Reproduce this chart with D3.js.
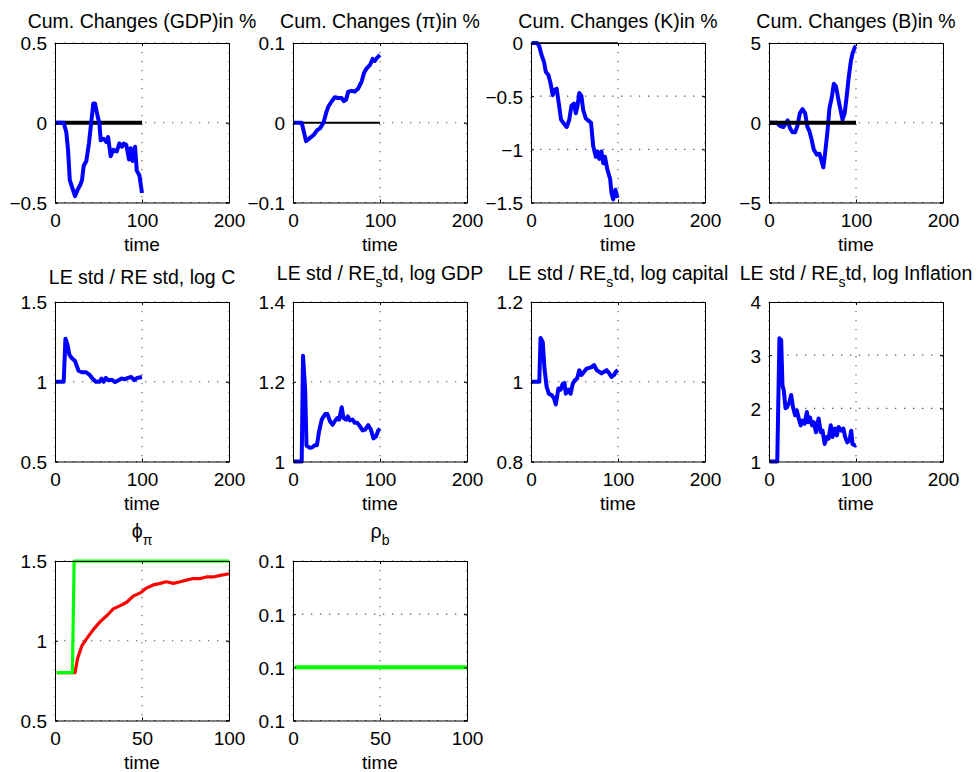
<!DOCTYPE html>
<html><head><meta charset="utf-8">
<script src="https://cdn.jsdelivr.net/npm/d3@7"></script>
<style>
body{margin:0;background:#fff;}
svg{display:block;}
text{font-family:"Liberation Sans",Arial,Helvetica,sans-serif;fill:#000;}
</style>
</head><body>
<svg id="c" width="979" height="772"></svg>
<script>
// ---------- data ----------
const gdpT = [1,10,13,15,17,20,23,26,29,31,33,36,39,42,44,46,49,51,52.5,56,59,61,64,67,71,74,77,79,82,85,87,89,92,94,97,100];
const gdpV = [0,0,-0.06,-0.17,-0.36,-0.41,-0.46,-0.42,-0.39,-0.36,-0.27,-0.24,-0.13,0.02,0.12,0.12,0.04,0,-0.11,-0.1,-0.12,-0.09,-0.21,-0.17,-0.18,-0.13,-0.15,-0.13,-0.14,-0.23,-0.16,-0.24,-0.15,-0.3,-0.33,-0.44];

const piT = [1,10,15,19.5,24,28,31,35,38,40.5,44.5,48,52,56,58.5,61,63.5,67.5,71,75,79,81.5,84.5,88.5,91.5,94,97,100];
const piV = [0,0,-0.023,-0.019,-0.015,-0.009,-0.007,0,0.012,0.02,0.027,0.032,0.031,0.031,0.027,0.029,0.039,0.04,0.039,0.043,0.052,0.062,0.068,0.0725,0.08,0.0775,0.082,0.085];

const capT = [1,7,9.5,12,15,17,20,22.5,25,27.5,29.5,32,34.5,38,41,44,46.5,49.5,51.5,53.5,55.5,58,60,63,66,69,71.5,74.5,76.5,78.5,81,83,85,87.5,91,92.5,94.5,97,99,100];
const capV = [0,0,-0.03,-0.11,-0.18,-0.27,-0.3,-0.38,-0.49,-0.44,-0.43,-0.57,-0.72,-0.76,-0.79,-0.72,-0.59,-0.57,-0.66,-0.59,-0.47,-0.5,-0.63,-0.71,-0.73,-0.75,-0.97,-1.07,-1.02,-1.09,-1.02,-1.13,-1.07,-1.18,-1.28,-1.41,-1.47,-1.38,-1.44,-1.43];

const bT = [1,9,12.5,16.5,19,21.5,24,27,30,32.5,35.5,38.5,41.5,44,46.5,49,51.5,55,58,60.5,62.5,64.5,67,69.5,72,74.5,77,79.5,82.5,84.5,87,89.5,91.5,94,96,99,100];
const bV = [0,0,-0.19,-0.27,-0.06,0.15,-0.33,-0.6,-0.6,-0.23,0.6,0.85,0.6,-0.23,-0.54,-1.06,-1.69,-2.0,-1.94,-2.42,-2.8,-1.9,-0.65,0.92,1.54,2.45,2.27,1.54,0.73,0.19,0.6,1.75,2.79,3.83,4.35,4.77,4.8];

const stdCT = [1,10,12,14.5,16.5,19,23,27,31,35.5,39.5,43,47,51,53.5,56,58.5,61,65,69,73,76.5,80.5,84,87.5,91,94.5,100];
const stdCV = [1,1,1.27,1.23,1.17,1.15,1.13,1.07,1.06,1.06,1.045,1.02,1.0,1.0,1.02,1.0,1.024,1.01,1.013,0.998,1.01,1.02,1.016,1.024,1.03,1.01,1.024,1.03];

const stdYT = [1,10,11.5,14,15.5,19.5,22.5,25,27.5,30,33,37,39.5,42.5,45.5,48,51,53,56,58,61,63,65.5,68.5,71,74,77,80,83,86.5,89.5,92.5,95.5,98,100];
const stdYV = [1,1,1.265,1.18,1.04,1.034,1.036,1.041,1.041,1.076,1.105,1.119,1.119,1.101,1.092,1.101,1.109,1.105,1.136,1.109,1.105,1.113,1.103,1.105,1.097,1.097,1.088,1.078,1.08,1.091,1.08,1.058,1.063,1.078,1.082];

const stdKT = [1,9.5,11,13.5,15.5,18,20.5,24,26.5,28.5,31.5,34,36.5,38.5,40,43,45.5,48,50.5,53,55.5,58,61,64,67,70,72.5,75.5,78.5,81,84,87,90,92.5,95.5,97.5,100];
const stdKV = [1,1,1.11,1.10,1.033,0.987,0.97,0.966,0.958,0.943,0.983,0.98,0.995,0.997,0.97,0.98,0.97,0.995,1.004,1.008,1.029,1.017,1.025,1.033,1.035,1.037,1.042,1.029,1.025,1.021,1.025,1.029,1.021,1.012,1.017,1.025,1.029];

const stdPiT = [1,9.5,12,14,15.5,17,19,21,23.5,25.5,27.5,30,32,34,36.5,38.5,41,43.5,45,47,49.5,51.5,54,57,59.5,61.5,64,66.5,68.5,71,73,75.5,78,80,83,85.5,87.5,90,92.5,94.5,96,99,100];
const stdPiV = [1,1,3.32,3.28,2.43,2.34,2.0,2.03,2.12,2.25,2.03,1.87,1.96,1.82,1.68,1.77,1.71,1.93,1.74,1.83,1.68,1.74,1.55,1.81,1.55,1.58,1.33,1.46,1.43,1.68,1.46,1.62,1.49,1.65,1.58,1.62,1.46,1.36,1.4,1.58,1.33,1.3,1.31];

const phiLearnT = [1,11,11.5,13,15.5,18,22,26,30,33.5,37.5,41,45,49,52.5,56.5,60.5,64,68,72,75.5,79.5,83.5,87,91,95,100];
const phiLearnV = [0.8,0.8,0.8,0.89,0.97,1.01,1.07,1.12,1.16,1.2,1.22,1.24,1.28,1.3,1.33,1.35,1.36,1.37,1.36,1.37,1.38,1.39,1.39,1.4,1.4,1.41,1.42];
const phiTrueT = [1,10,11,100];
const phiTrueV = [0.8,0.8,1.5,1.5];

const rhoT = [1,100];
const rhoV = [0.1,0.1];

const zeroT = [0,100];
const zeroV = [0,0];

const ticks200 = [0,100,200];
const ticks100 = [0,50,100];
const yTicksGdp = [-0.5,0,0.5];
const yTicksPi = [-0.1,0,0.1];
const yTicksCap = [-1.5,-1,-0.5,0];
const yTicksB = [-5,0,5];
const yTicksStdC = [0.5,1,1.5];
const yTicksStdY = [1,1.2,1.4];
const yTicksStdK = [0.8,1,1.2];
const yTicksStdPi = [1,2,3,4];
const yTicksPhi = [0.5,1,1.5];
const yTicksRho = [0.0995,0.1,0.1005,0.101];

// ---------- layout ----------
const svg = d3.select("#c");
const W = 174, H = 159.5;
const colX = [55, 293, 531, 769];
const rowY = [43, 302, 561];
const FS = 19, TFS = 19.5;
const BLUE = "#0000ff", GREEN = "#00ff00", RED = "#ff0000";

function num(v){ return String(+v.toFixed(4)).replace("-", "\u2212"); }
function one(v){ return (+v.toFixed(1)).toString(); }

const panels = [
  {c:0,r:0,title:[["Cum. Changes (GDP)in %"]],xt:ticks200,yt:yTicksGdp,
   series:[{t:zeroT,v:zeroV,col:"#000",w:4},{t:gdpT,v:gdpV,col:BLUE,w:4}]},
  {c:1,r:0,title:[["Cum. Changes (\u03c0)in %"]],xt:ticks200,yt:yTicksPi,
   series:[{t:zeroT,v:zeroV,col:"#000",w:2},{t:piT,v:piV,col:BLUE,w:4}]},
  {c:2,r:0,title:[["Cum. Changes (K)in %"]],xt:ticks200,yt:yTicksCap,
   series:[{t:zeroT,v:zeroV,col:"#000",w:1.4},{t:capT,v:capV,col:BLUE,w:4}]},
  {c:3,r:0,title:[["Cum. Changes (B)in %"]],xt:ticks200,yt:yTicksB,
   series:[{t:bT,v:bV,col:BLUE,w:4},{t:zeroT,v:zeroV,col:"#000",w:4}]},
  {c:0,r:1,title:[["LE std / RE std, log C"]],xt:ticks200,yt:yTicksStdC,
   series:[{t:stdCT,v:stdCV,col:BLUE,w:4}]},
  {c:1,r:1,title:[["LE std / RE"],["s",1],["td, log GDP"]],xt:ticks200,yt:yTicksStdY,
   series:[{t:stdYT,v:stdYV,col:BLUE,w:4}]},
  {c:2,r:1,title:[["LE std / RE"],["s",1],["td, log capital"]],xt:ticks200,yt:yTicksStdK,
   series:[{t:stdKT,v:stdKV,col:BLUE,w:4}]},
  {c:3,r:1,title:[["LE std / RE"],["s",1],["td, log Inflation"]],xt:ticks200,yt:yTicksStdPi,
   series:[{t:stdPiT,v:stdPiV,col:BLUE,w:4}]},
  {c:0,r:2,title:[["\u03d5"],["\u03c0",1]],xt:ticks100,yt:yTicksPhi,
   series:[{t:phiLearnT,v:phiLearnV,col:RED,w:3.2},{t:phiTrueT,v:phiTrueV,col:GREEN,w:3.2}]},
  {c:1,r:2,title:[["\u03c1"],["b",1]],xt:ticks100,yt:yTicksRho,fmt:one,
   series:[{t:rhoT,v:rhoV,col:GREEN,w:4}]}
];

panels.forEach(p => {
  const x0 = colX[p.c], y0 = rowY[p.r];
  const g = svg.append("g").attr("transform", `translate(${x0},${y0})`);
  const x = d3.scaleLinear().domain(d3.extent(p.xt)).range([0, W]);
  const y = d3.scaleLinear().domain(d3.extent(p.yt)).range([H, 0]);
  const f = p.fmt || num;

  // grid
  const grid = g.append("g").attr("stroke","#555").attr("stroke-width",1.1).attr("stroke-dasharray","1.3,7.7");
  p.xt.forEach(t => grid.append("line").attr("x1",x(t)).attr("x2",x(t)).attr("y1",0).attr("y2",H));
  p.yt.forEach(t => grid.append("line").attr("x1",0).attr("x2",W).attr("y1",y(t)).attr("y2",y(t)));

  // data
  const line = d3.line().x(d => x(d[0])).y(d => y(d[1]));
  p.series.forEach(s => {
    g.append("path").datum(s.t.map((t,i)=>[t,s.v[i]]))
      .attr("d", line).attr("fill","none").attr("stroke",s.col)
      .attr("stroke-width",s.w).attr("stroke-linejoin","round").attr("stroke-linecap","butt");
  });

  // box + axes (inward ticks)
  const axB = d3.axisBottom(x).tickValues(p.xt).tickSize(-3).tickFormat(f).tickPadding(11);
  const axT = d3.axisTop(x).tickValues(p.xt).tickSize(-3).tickFormat("");
  const axL = d3.axisLeft(y).tickValues(p.yt).tickSize(-3).tickFormat(f).tickPadding(8);
  const axR = d3.axisRight(y).tickValues(p.yt).tickSize(-3).tickFormat("");
  const gb = g.append("g").attr("transform",`translate(0,${H})`).call(axB);
  const gt = g.append("g").call(axT);
  const gl = g.append("g").call(axL);
  const gr = g.append("g").attr("transform",`translate(${W},0)`).call(axR);
  [gb,gt,gl,gr].forEach(a => {
    a.selectAll("path.domain").attr("stroke","#000").attr("stroke-width",1);
    a.selectAll(".tick line").attr("stroke","#000");
    a.selectAll("text").attr("font-size",FS).attr("font-family",null).attr("fill","#000");
  });
  gb.selectAll("text").attr("dy","0.72em");
  gl.selectAll("text").attr("dy","0.36em");

  // x label
  g.append("text").attr("x",W/2).attr("y",H+48).attr("text-anchor","middle")
    .attr("font-size",FS).text("time");

  // title
  const hasSub = p.title.length > 1;
  let base;
  if (p.r === 0) base = -15.5;
  else if (p.r === 1) base = hasSub ? -22 : -17.7;
  else base = -23;
  const tt = g.append("text").attr("x",W/2).attr("y",base).attr("text-anchor","middle").attr("font-size",TFS);
  let shifted = false;
  p.title.forEach(seg => {
    const ts = tt.append("tspan").text(seg[0]);
    if (seg[1]) { ts.attr("font-size",14).attr("dy",7); shifted = true; }
    else if (shifted) { ts.attr("dy",-7); shifted = false; }
  });
});
</script>
</body></html>
